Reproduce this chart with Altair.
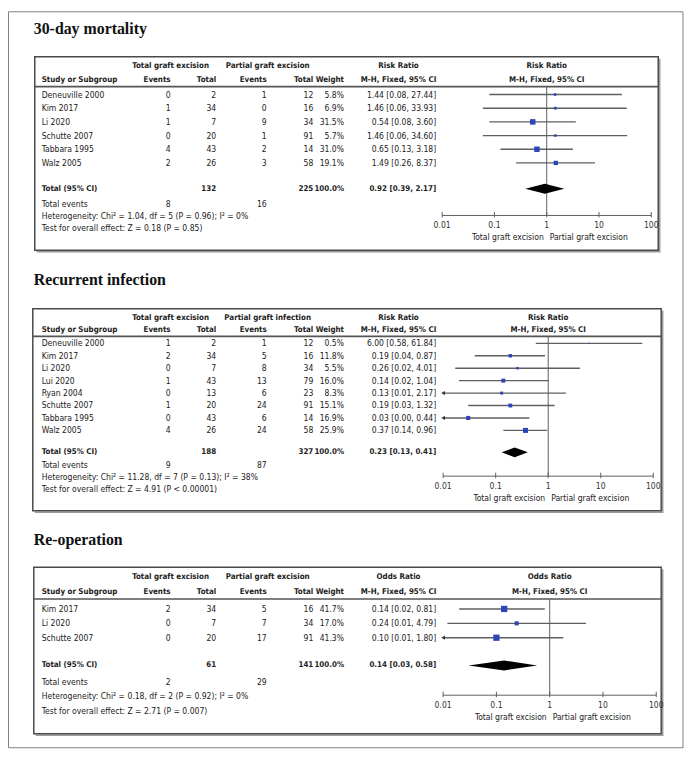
import altair as alt
import pandas as pd

# ------------------------------------------------------------------ data
titles = ["30-day mortality", "Recurrent infection", "Re-operation"]
group1 = "Total graft excision"
group2 = ["Partial graft excision", "Partial graft infection", "Partial graft excision"]
measure = ["Risk Ratio", "Risk Ratio", "Odds Ratio"]
method = "M-H, Fixed, 95% CI"
favours = ["Total graft excision", "Partial graft excision"]
tick_values = [0.01, 0.1, 1, 10, 100]
tick_labels = ["0.01", "0.1", "1", "10", "100"]

# 30-day mortality
m_study = ["Deneuville 2000", "Kim 2017", "Li 2020", "Schutte 2007", "Tabbara 1995", "Walz 2005"]
m_ev1 = [0, 1, 1, 0, 4, 2]
m_tot1 = [2, 34, 7, 20, 43, 26]
m_ev2 = [1, 0, 9, 1, 2, 3]
m_tot2 = [12, 16, 34, 91, 14, 58]
m_weight = [5.8, 6.9, 31.5, 5.7, 31.0, 19.1]
m_est = [1.44, 1.46, 0.54, 1.46, 0.65, 1.49]
m_lo = [0.08, 0.06, 0.08, 0.06, 0.13, 0.26]
m_hi = [27.44, 33.93, 3.60, 34.60, 3.18, 8.37]
m_total = [132, 225, 8, 16]          # total1, total2, events1, events2
m_pooled = [0.92, 0.39, 2.17]
m_het = "Heterogeneity: Chi² = 1.04, df = 5 (P = 0.96); I² = 0%"
m_test = "Test for overall effect: Z = 0.18 (P = 0.85)"

# Recurrent infection
r_study = ["Deneuville 2000", "Kim 2017", "Li 2020", "Lui 2020", "Ryan 2004",
           "Schutte 2007", "Tabbara 1995", "Walz 2005"]
r_ev1 = [1, 2, 0, 1, 0, 1, 0, 4]
r_tot1 = [2, 34, 7, 43, 13, 20, 43, 26]
r_ev2 = [1, 5, 8, 13, 6, 24, 6, 24]
r_tot2 = [12, 16, 34, 79, 23, 91, 14, 58]
r_weight = [0.5, 11.8, 5.5, 16.0, 8.3, 15.1, 16.9, 25.9]
r_est = [6.00, 0.19, 0.26, 0.14, 0.13, 0.19, 0.03, 0.37]
r_lo = [0.58, 0.04, 0.017, 0.02, 0.008, 0.03, 0.002, 0.14]
r_hi = [61.84, 0.87, 4.01, 1.04, 2.17, 1.32, 0.44, 0.96]
r_total = [188, 327, 9, 87]
r_pooled = [0.23, 0.13, 0.41]
r_het = "Heterogeneity: Chi² = 11.28, df = 7 (P = 0.13); I² = 38%"
r_test = "Test for overall effect: Z = 4.91 (P < 0.00001)"

# Re-operation
o_study = ["Kim 2017", "Li 2020", "Schutte 2007"]
o_ev1 = [2, 0, 0]
o_tot1 = [34, 7, 20]
o_ev2 = [5, 7, 17]
o_tot2 = [16, 34, 91]
o_weight = [41.7, 17.0, 41.3]
o_est = [0.14, 0.24, 0.10]
o_lo = [0.02, 0.012, 0.006]
o_hi = [0.81, 4.79, 1.80]
o_total = [61, 141, 2, 29]
o_pooled = [0.14, 0.03, 0.58]
o_het = "Heterogeneity: Chi² = 0.18, df = 2 (P = 0.92); I² = 0%"
o_test = "Test for overall effect: Z = 2.71 (P = 0.007)"

# ------------------------------------------------------------------ layout / style
OFF = 8
W, H = 682, 744
SANS = "DejaVu Sans Condensed, Liberation Sans Narrow, Arial Narrow, Liberation Sans, sans-serif"
SERIF = "Liberation Serif, Times New Roman, serif"
INK = "#222222"
LINE = "#5f5f5f"
BLUE = "#2c45b8"
FS = 8.6      # body text
FSB = 8.0     # bold header text

COLS = dict(study=42, ev1=172, tot1=218, ev2=269, tot2=316, wt=347, ci=440)
G1_X, G2_X, MEAS_X = 172, 270, 402

LAYOUTS = [
    dict(title_y=26, box=(35, 54, 664, 249), h1=63, h2=77, sep=84, y0=92, dy=13.8,
         yt=187, ye=202, yh=215, ys=227, axis=214, xl=446, xr=657),
    dict(title_y=279, box=(33, 308, 667, 512), h1=317, h2=330, sep=336, y0=343, dy=12.55,
         yt=453, ye=466, yh=478, ys=490, axis=477, xl=447, xr=659),
    dict(title_y=541, box=(34, 569, 667, 737), h1=579, h2=594, sep=601, y0=611, dy=14.5,
         yt=668, ye=685, yh=699, ys=714, axis=698, xl=447, xr=662),
]

PANELS = [
    dict(study=m_study, ev1=m_ev1, tot1=m_tot1, ev2=m_ev2, tot2=m_tot2, w=m_weight,
         est=m_est, lo=m_lo, hi=m_hi, total=m_total, pooled=m_pooled, het=m_het, test=m_test),
    dict(study=r_study, ev1=r_ev1, tot1=r_tot1, ev2=r_ev2, tot2=r_tot2, w=r_weight,
         est=r_est, lo=r_lo, hi=r_hi, total=r_total, pooled=r_pooled, het=r_het, test=r_test),
    dict(study=o_study, ev1=o_ev1, tot1=o_tot1, ev2=o_ev2, tot2=o_tot2, w=o_weight,
         est=o_est, lo=o_lo, hi=o_hi, total=o_total, pooled=o_pooled, het=o_het, test=o_test),
]


def px(v):
    return alt.value(v - OFF)


ONE = pd.DataFrame({"k": [0]})


def label(text, x, y, align="left", bold=False):
    return alt.Chart(ONE).mark_text(
        text=text, font=SANS, fontSize=FSB if bold else FS, fontWeight="bold" if bold else "normal",
        align=align, baseline="middle", color=INK
    ).encode(x=px(x), y=px(y))


def ci_text(e, l, h):
    return f"{e:.2f} [{l:.2f}, {h:.2f}]"


def build(i):
    d, L = PANELS[i], LAYOUTS[i]
    n = len(d["study"])
    ys = alt.Scale(domain=[0, 1], range=[L["y0"] - OFF, L["y0"] + L["dy"] - OFF], nice=False, zero=False)
    xs = alt.Scale(type="log", domain=[0.01, 100], range=[L["xl"] - OFF, L["xr"] - OFF], nice=False)
    Y = lambda f: alt.Y(f, scale=ys, axis=None)
    X = lambda f: alt.X(f, scale=xs, axis=None)
    layers = []
    l, t, r, b = L["box"]
    # soft shadow on right and bottom edges, then the box itself
    layers.append(alt.Chart(ONE).mark_rule(color="#9a9a9a", strokeWidth=1.5)
                  .encode(x=px(l + 2), x2=px(r + 2), y=px(b + 1.5)))
    layers.append(alt.Chart(ONE).mark_rule(color="#9a9a9a", strokeWidth=1.5)
                  .encode(x=px(r + 1.5), y=px(t + 2), y2=px(b + 2)))
    layers.append(alt.Chart(ONE).mark_rect(fillOpacity=0, stroke="#4a4a4a", strokeWidth=1.5)
                  .encode(x=px(l), x2=px(r), y=px(t), y2=px(b)))
    layers.append(alt.Chart(ONE).mark_rule(color="#555555", strokeWidth=1.6)
                  .encode(x=px(l), x2=px(r), y=px(L["sep"])))
    layers.append(alt.Chart(ONE).mark_text(text=titles[i], font=SERIF, fontSize=16, fontWeight="bold",
                                           align="left", baseline="middle", color="#111111")
                  .encode(x=px(34), y=px(L["title_y"])))
    # table headers
    layers += [
        label(group1, G1_X, L["h1"], "center", True),
        label(group2[i], G2_X, L["h1"], "center", True),
        label(measure[i], MEAS_X, L["h1"], "center", True),
        label("Study or Subgroup", COLS["study"], L["h2"], "left", True),
        label("Events", COLS["ev1"], L["h2"], "right", True),
        label("Total", COLS["tot1"], L["h2"], "right", True),
        label("Events", COLS["ev2"], L["h2"], "right", True),
        label("Total", COLS["tot2"], L["h2"], "right", True),
        label("Weight", COLS["wt"], L["h2"], "right", True),
        label(method, MEAS_X, L["h2"], "center", True),
    ]
    one_at = pd.DataFrame({"v": [1]})
    for s, yy in ((measure[i], L["h1"]), (method, L["h2"])):
        layers.append(alt.Chart(one_at).mark_text(text=s, font=SANS, fontSize=FSB, fontWeight="bold",
                                                  align="center", baseline="middle", color=INK)
                      .encode(x=X("v:Q"), y=px(yy)))
    # study rows
    rows = pd.DataFrame({
        "row": list(range(n)),
        "study": d["study"],
        "ev1": [str(v) for v in d["ev1"]],
        "tot1": [str(v) for v in d["tot1"]],
        "ev2": [str(v) for v in d["ev2"]],
        "tot2": [str(v) for v in d["tot2"]],
        "wt": [f"{v:.1f}%" for v in d["w"]],
        "ci": [ci_text(e, lo, hi) for e, lo, hi in zip(d["est"], d["lo"], d["hi"])],
    })
    for col in ["study", "ev1", "tot1", "ev2", "tot2", "wt", "ci"]:
        layers.append(alt.Chart(rows).mark_text(font=SANS, fontSize=FS, baseline="middle", color=INK,
                                                align="left" if col == "study" else "right")
                      .encode(x=px(COLS[col]), y=Y("row:Q"), text=f"{col}:N"))
    # footer
    tot = d["total"]
    pe, pl, ph = d["pooled"]
    layers += [
        label("Total (95% CI)", COLS["study"], L["yt"], "left", True),
        label(str(tot[0]), COLS["tot1"], L["yt"], "right", True),
        label(str(tot[1]), COLS["tot2"], L["yt"], "right", True),
        label("100.0%", COLS["wt"], L["yt"], "right", True),
        label(ci_text(pe, pl, ph), COLS["ci"], L["yt"], "right", True),
        label("Total events", COLS["study"], L["ye"], "left"),
        label(str(tot[2]), COLS["ev1"], L["ye"], "right"),
        label(str(tot[3]), COLS["ev2"], L["ye"], "right"),
        label(d["het"], COLS["study"], L["yh"], "left"),
        label(d["test"], COLS["study"], L["ys"], "left"),
    ]
    # forest: line of no effect
    layers.append(alt.Chart(one_at).mark_rule(color=LINE, strokeWidth=1)
                  .encode(x=X("v:Q"), y=px(L["sep"]), y2=px(L["axis"])))
    fr = pd.DataFrame({
        "row": list(range(n)),
        "est": d["est"],
        "lo": [max(v, 0.01) for v in d["lo"]],
        "hi": [min(v, 100) for v in d["hi"]],
        "w": d["w"],
        "cut": [v < 0.01 for v in d["lo"]],
    })
    layers.append(alt.Chart(fr).mark_rule(color=LINE, strokeWidth=1.4)
                  .encode(x=X("lo:Q"), x2="hi:Q", y=Y("row:Q")))
    layers.append(alt.Chart(fr).mark_point(shape="square", filled=True, opacity=1, color=BLUE)
                  .encode(x=X("est:Q"), y=Y("row:Q"),
                          size=alt.Size("w:Q", scale=alt.Scale(domain=[0, 100], range=[1, 95]), legend=None)))
    arrows = fr[fr["cut"]]
    if len(arrows):
        layers.append(alt.Chart(arrows).mark_point(shape="triangle-left", filled=True, opacity=1,
                                                   size=18, color="#333333")
                      .encode(x=X("lo:Q"), y=Y("row:Q")))
    # pooled diamond
    rt = (L["yt"] - L["y0"]) / L["dy"]
    hh = 5.0 / L["dy"]
    dia = pd.DataFrame({"x": [pl, pe, ph], "ya": [rt, rt - hh, rt], "yb": [rt, rt + hh, rt]})
    layers.append(alt.Chart(dia).mark_area(color="#000000", orient="vertical", opacity=1)
                  .encode(x=X("x:Q"), y=Y("ya:Q"), y2="yb:Q"))
    # axis
    ax = pd.DataFrame({"a": [tick_values[0]], "b": [tick_values[-1]]})
    layers.append(alt.Chart(ax).mark_rule(color=LINE, strokeWidth=1)
                  .encode(x=X("a:Q"), x2="b:Q", y=px(L["axis"])))
    tk = pd.DataFrame({"t": tick_values, "lab": tick_labels})
    layers.append(alt.Chart(tk).mark_rule(color=LINE, strokeWidth=1)
                  .encode(x=X("t:Q"), y=px(L["axis"] - 3.5), y2=px(L["axis"] + 2)))
    layers.append(alt.Chart(tk).mark_text(font=SANS, fontSize=FS, baseline="middle", align="center", color="#333333")
                  .encode(x=X("t:Q"), y=px(L["axis"] + 10), text="lab:N"))
    layers.append(alt.Chart(one_at).mark_text(text=favours[0], font=SANS, fontSize=FS, align="right", dx=-3,
                                              baseline="middle", color=INK)
                  .encode(x=X("v:Q"), y=px(L["axis"] + 22)))
    layers.append(alt.Chart(one_at).mark_text(text=favours[1], font=SANS, fontSize=FS, align="left", dx=3,
                                              baseline="middle", color=INK)
                  .encode(x=X("v:Q"), y=px(L["axis"] + 22)))
    return layers


all_layers = [alt.Chart(ONE).mark_rect(fillOpacity=0, stroke="#808080", strokeWidth=1)
              .encode(x=alt.value(0.5), x2=alt.value(W - 1), y=alt.value(0.5), y2=alt.value(H - 1))]
for k in range(3):
    all_layers += build(k)

chart = (
    alt.layer(*all_layers)
    .resolve_scale(x="independent", y="independent")
    .properties(width=W, height=H, padding=0, autosize=alt.AutoSizeParams(type="none"))
    .configure_view(stroke="transparent")
)

chart.save("out.html", embed_options={"renderer": "svg", "actions": False})
